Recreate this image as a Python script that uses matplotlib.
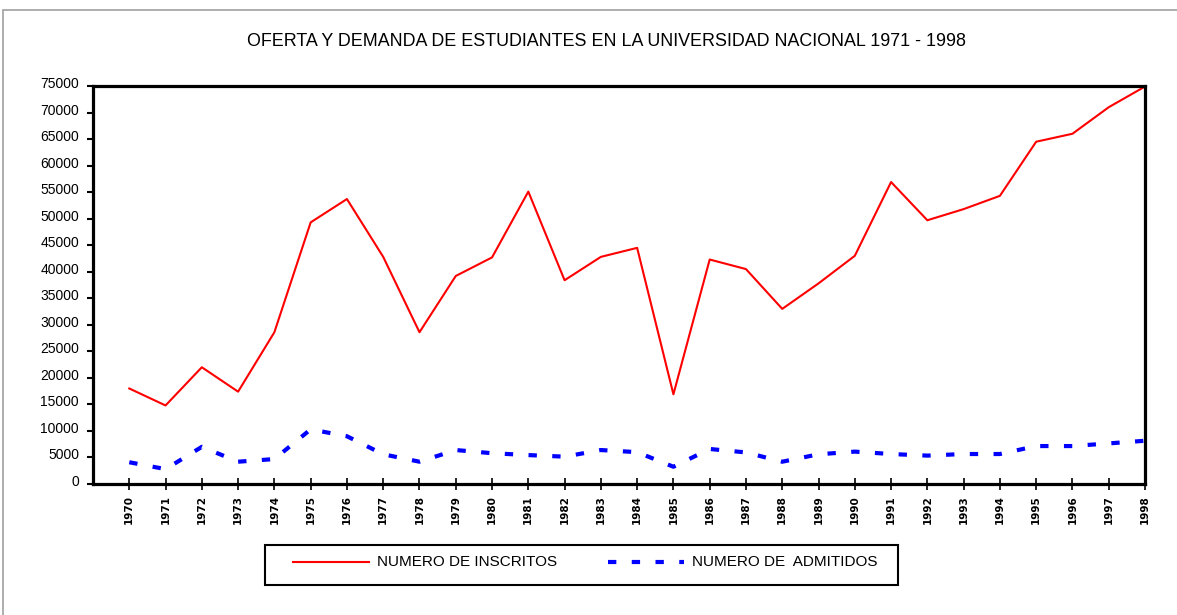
"""
Oferta y demanda de estudiantes, Universidad Nacional 1971 - 1998
"""
import matplotlib
matplotlib.use('Agg')
import matplotlib.pyplot as plt
import matplotlib.patches as patches
import matplotlib.transforms as mtransforms

# Données
annees = list(range(1970, 1999))
inscritos = [18000, 14800, 22000, 17400, 28600, 49300, 53700, 42800, 28600, 39200,
             42700, 55100, 38400, 42800, 44500, 16900, 42300, 40500, 33000, 37800,
             43000, 56900, 49700, 51800, 54300, 64500, 66000, 71000, 74900]
admitidos = [4100, 2800, 7000, 4200, 4700, 10300, 9000, 5600, 4200, 6400,
             5800, 5450, 5150, 6400, 6000, 3250, 6600, 5950, 4200, 5600,
             6100, 5650, 5350, 5650, 5650, 7150, 7150, 7650, 8150]
yticks = list(range(0, 75001, 5000))

titre = 'OFERTA Y DEMANDA DE ESTUDIANTES EN LA UNIVERSIDAD NACIONAL 1971 - 1998'
lbl_inscritos = 'NUMERO DE INSCRITOS'
lbl_admitidos = 'NUMERO DE  ADMITIDOS'

plt.rcParams['font.family'] = ['Liberation Sans', 'DejaVu Sans']

W, H = 1177, 615
fig = plt.figure(figsize=(W / 100, H / 100), dpi=100)
ax = fig.add_axes([93 / W, 1 - 484 / H, (1145 - 93) / W, (484 - 86) / H])

# cadre gris extérieur
fig.patches.append(patches.Rectangle((3 / W, -0.1), 1.2, 1 - 10 / H + 0.1,
                                     transform=fig.transFigure, fill=False,
                                     edgecolor='#a0a0a0', linewidth=1.2))

ax.plot(annees, inscritos, color='red', linewidth=1.5, label=lbl_inscritos)
ax.plot(annees, admitidos, color='blue', linewidth=3, dashes=(2, 3.7),
        dash_capstyle='butt', label=lbl_admitidos)

ax.set_xlim(1969, 1998)
ax.set_ylim(0, 75000)
ax.set_yticks(yticks)
ax.set_yticklabels([str(v) for v in yticks], fontsize=10)
ax.set_xticks(annees)
ax.set_xticklabels([str(a) for a in annees], rotation=90, fontsize=7.5,
                   fontweight='bold', family='DejaVu Sans')
ax.tick_params(axis='y', direction='out', length=4, width=1.5, pad=6)
ax.tick_params(axis='x', direction='inout', length=8, width=1.2, pad=4)
for s in ax.spines.values():
    s.set_linewidth(2.3)

# étiquettes Y légèrement au-dessus des graduations
decalage = mtransforms.ScaledTranslation(0, 3.5 / 100, fig.dpi_scale_trans)
for lab in ax.get_yticklabels():
    lab.set_transform(lab.get_transform() + decalage)

fig.text(606 / W, 1 - 41 / H, titre, ha='center', va='center', fontsize=12.9)

# légende sans cadre, cadre dessiné à part
leg = ax.legend(loc='center', bbox_to_anchor=(585 / W, 1 - 562 / H),
                bbox_transform=fig.transFigure, ncol=2, frameon=False,
                fontsize=11, handlelength=5.0, columnspacing=3.3,
                handletextpad=0.5, handleheight=0.05)
fig.patches.append(patches.Rectangle((265 / W, 1 - 585 / H), (898 - 265) / W, 40 / H,
                                     transform=fig.transFigure, fill=False,
                                     edgecolor='black', linewidth=1.5))

fig.savefig('out.png', dpi=100)
